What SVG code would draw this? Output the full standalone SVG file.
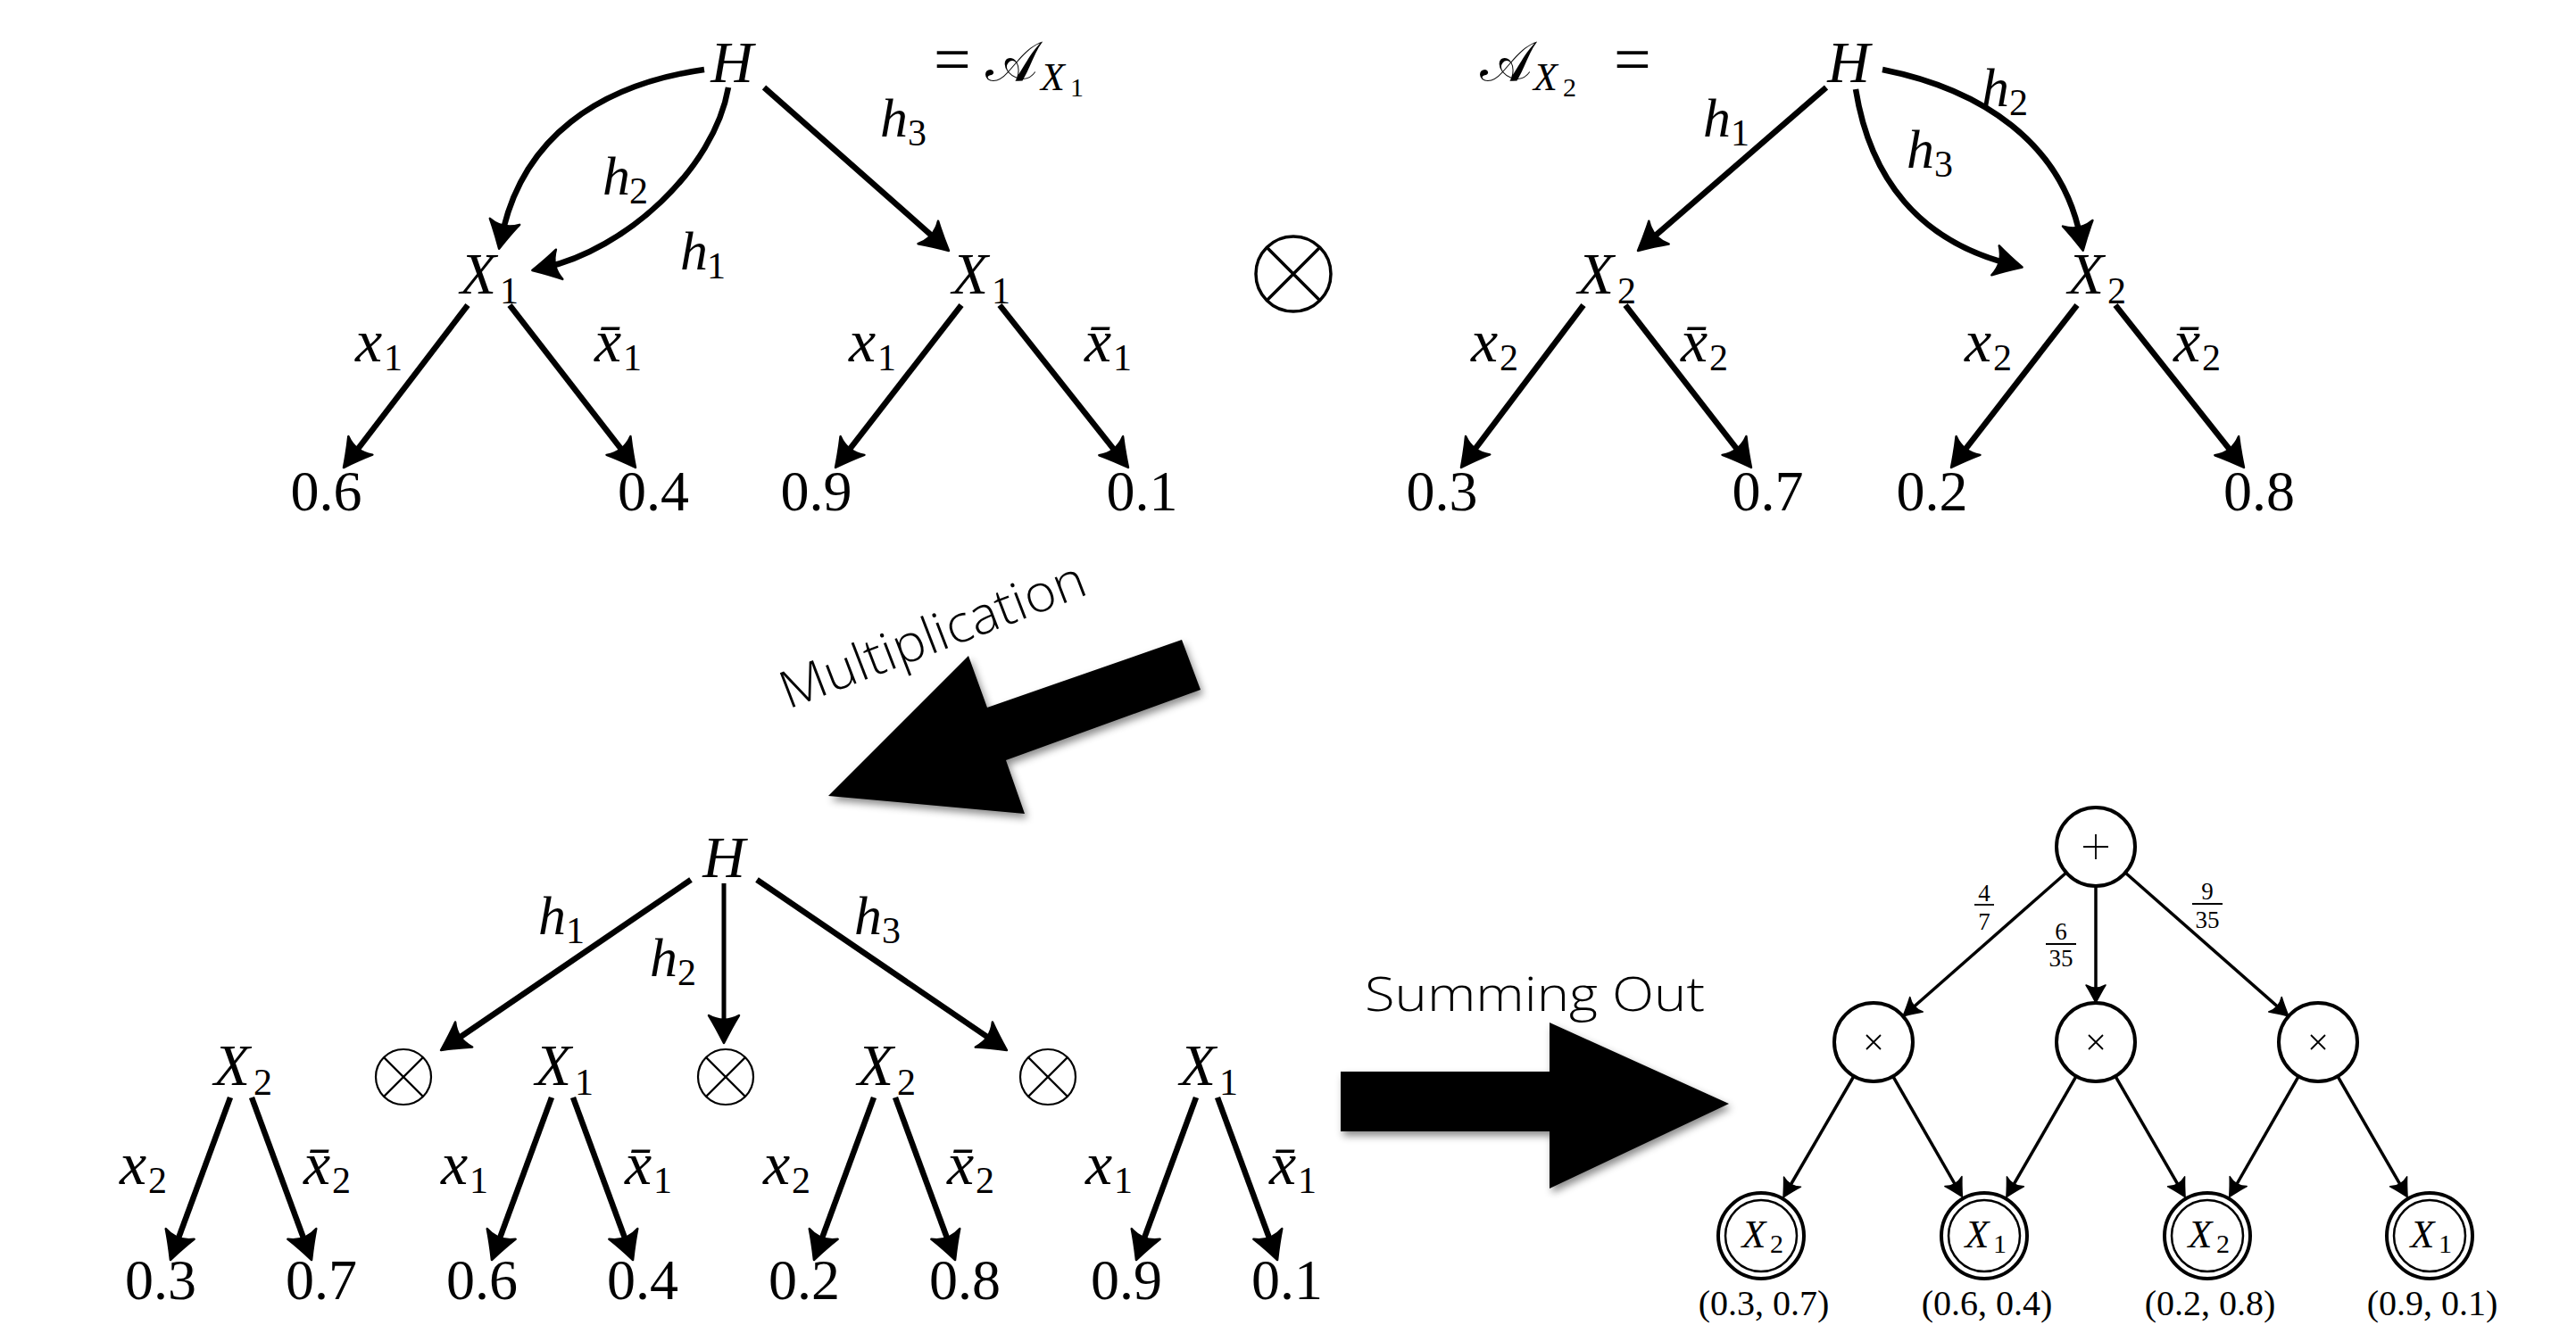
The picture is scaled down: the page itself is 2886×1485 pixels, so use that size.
<svg xmlns="http://www.w3.org/2000/svg" width="2886" height="1485" viewBox="0 0 2886 1485">
<defs>
<style>
.mi{font-family:"Liberation Serif","Times New Roman",serif;font-style:italic;font-size:66px;fill:#000}
.lb{font-family:"Liberation Serif","Times New Roman",serif;font-style:italic;font-size:62px;fill:#000}
.lx{font-family:"Liberation Serif","Times New Roman",serif;font-style:italic;font-size:68px;fill:#000}
.sb{font-family:"Liberation Serif","Times New Roman",serif;font-size:42px;fill:#000}
.ss{font-family:"Liberation Serif","Times New Roman",serif;font-size:30px;fill:#000}
.up{font-family:"Liberation Serif","Times New Roman",serif;font-size:74px;fill:#000}
.cal{font-family:"Liberation Serif","DejaVu Serif",serif;font-size:62px;fill:#000}
.num{font-family:"Liberation Serif","Times New Roman",serif;font-size:64px;fill:#000;text-anchor:middle}
.ctr{text-anchor:middle}
.e{fill:none;stroke:#000;stroke-width:6.5;marker-end:url(#ah)}
.e2{fill:none;stroke:#000;stroke-width:5;marker-end:url(#ah)}
.et{fill:none;stroke:#000;stroke-width:3.5;marker-end:url(#as)}
.ot{fill:none;stroke:#000}
.nd{fill:#fff;stroke:#000;stroke-width:4}
.thin{fill:none;stroke:#000;stroke-width:1.8}
.big{fill:#000;filter:url(#sh)}
.sans{font-family:"Open Sans","Liberation Sans",Arial,sans-serif;font-weight:300;fill:#000}
.frac{font-family:"Liberation Serif","Times New Roman",serif;font-size:27px;fill:#000;text-anchor:middle}
.tup{font-family:"Liberation Serif","Times New Roman",serif;font-size:40px;fill:#000;text-anchor:middle}
.lmi{font-family:"Liberation Serif","Times New Roman",serif;font-style:italic;font-size:44px;fill:#000}
</style>
<marker id="ah" markerUnits="userSpaceOnUse" viewBox="-40 -25 50 50" markerWidth="50" markerHeight="50" refX="-14" refY="0" orient="auto" overflow="visible">
<path d="M0,0 C-6,-3 -18,-9 -31,-17 C-25,-6 -25,6 -31,17 C-18,9 -6,3 0,0 Z" fill="#000" stroke="#000" stroke-width="2.5" stroke-linejoin="round"/>
</marker>
<marker id="as" markerUnits="userSpaceOnUse" viewBox="-30 -20 40 40" markerWidth="40" markerHeight="40" refX="-8" refY="0" orient="auto" overflow="visible">
<path d="M0,0 C-4,-2 -12,-6 -20,-11 C-16,-4 -16,4 -20,11 C-12,6 -4,2 0,0 Z" fill="#000" stroke="#000" stroke-width="1.5" stroke-linejoin="round"/>
</marker>
<filter id="sh" x="-20%" y="-20%" width="140%" height="140%">
<feDropShadow dx="3" dy="5" stdDeviation="4" flood-color="#000" flood-opacity="0.45"/>
</filter>
</defs>
<rect width="2886" height="1485" fill="#fff"/>

<!-- connectors -->
<g id="connectors">
<!-- top-left tree -->
<path class="e" d="M789,78 C670,95 585,155 562,265"/>
<path class="e" d="M816,98 C800,190 700,280 610,300"/>
<path class="e" d="M856,98 L1052.5,271.7"/>
<path class="e" d="M524,342 L393.5,512.9"/>
<path class="e" d="M571,342 L703.4,512.9"/>
<path class="e" d="M1077,342 L944.6,512.9"/>
<path class="e" d="M1120,342 L1255.3,513"/>
<!-- top-right tree -->
<path class="e" d="M2046,98 L1845.6,271.8"/>
<path class="e" d="M2079,100 C2095,200 2150,270 2252,296"/>
<path class="e" d="M2109,78 C2220,100 2310,160 2331,267"/>
<path class="e" d="M1774,342 L1645.4,512.8"/>
<path class="e" d="M1821,342 L1953.4,512.9"/>
<path class="e" d="M2327,342 L2194.6,512.9"/>
<path class="e" d="M2370,342 L2505.3,513"/>
<!-- bottom-left tree -->
<path class="e" d="M774,986 L505.6,1169.1"/>
<path class="e2" d="M811,990 L811,1155"/>
<path class="e" d="M848,986 L1116.4,1169.1"/>
<path class="e" d="M258,1230 L195.8,1398.9"/>
<path class="e" d="M282,1230 L344.2,1398.9"/>
<path class="e" d="M618,1230 L555.8,1398.9"/>
<path class="e" d="M642,1230 L704.2,1398.9"/>
<path class="e" d="M979,1230 L916.8,1398.9"/>
<path class="e" d="M1003,1230 L1065.2,1398.9"/>
<path class="e" d="M1340,1230 L1277.8,1398.9"/>
<path class="e" d="M1364,1230 L1426.2,1398.9"/>
<!-- right graph -->
<path class="et" d="M2315,978 L2138,1133.7"/>
<path class="et" d="M2348,993 L2348,1116"/>
<path class="et" d="M2381,978 L2558,1133.7"/>
<path class="et" d="M2077,1206 L2002,1335"/>
<path class="et" d="M2120.7,1206.2 L2194.4,1334.5"/>
<path class="et" d="M2326.1,1206.2 L2251.9,1334.7"/>
<path class="et" d="M2369.9,1206.2 L2444.1,1334.7"/>
<path class="et" d="M2575.3,1206.2 L2501.7,1334.5"/>
<path class="et" d="M2618.9,1206.2 L2693.1,1334.7"/>
</g>

<!-- edge labels -->
<g id="edge-labels">
<text class="lb" x="675" y="218">h</text><text class="sb" x="705" y="228">2</text>
<text class="lb" x="762" y="302">h</text><text class="sb" x="792" y="312">1</text>
<text class="lb" x="986" y="153">h</text><text class="sb" x="1017" y="163">3</text>
<text class="lx" x="398" y="405">x</text><text class="sb" x="430" y="415">1</text>
<text class="lx" x="666" y="405">x&#x0304;</text><text class="sb" x="698" y="415">1</text>
<text class="lx" x="951" y="405">x</text><text class="sb" x="983" y="415">1</text>
<text class="lx" x="1215" y="405">x&#x0304;</text><text class="sb" x="1247" y="415">1</text>

<text class="lb" x="1908" y="153">h</text><text class="sb" x="1939" y="163">1</text>
<text class="lb" x="2136" y="188">h</text><text class="sb" x="2167" y="198">3</text>
<text class="lb" x="2220" y="119">h</text><text class="sb" x="2251" y="129">2</text>
<text class="lx" x="1648" y="405">x</text><text class="sb" x="1680" y="415">2</text>
<text class="lx" x="1883" y="405">x&#x0304;</text><text class="sb" x="1915" y="415">2</text>
<text class="lx" x="2201" y="405">x</text><text class="sb" x="2233" y="415">2</text>
<text class="lx" x="2435" y="405">x&#x0304;</text><text class="sb" x="2467" y="415">2</text>

<text class="lb" x="603" y="1047">h</text><text class="sb" x="634" y="1057">1</text>
<text class="lb" x="728" y="1094">h</text><text class="sb" x="759" y="1104">2</text>
<text class="lb" x="957" y="1047">h</text><text class="sb" x="988" y="1057">3</text>
<text class="lx" x="134" y="1327">x</text><text class="sb" x="166" y="1337">2</text>
<text class="lx" x="340" y="1327">x&#x0304;</text><text class="sb" x="372" y="1337">2</text>
<text class="lx" x="494" y="1327">x</text><text class="sb" x="526" y="1337">1</text>
<text class="lx" x="700" y="1327">x&#x0304;</text><text class="sb" x="732" y="1337">1</text>
<text class="lx" x="855" y="1327">x</text><text class="sb" x="887" y="1337">2</text>
<text class="lx" x="1061" y="1327">x&#x0304;</text><text class="sb" x="1093" y="1337">2</text>
<text class="lx" x="1216" y="1327">x</text><text class="sb" x="1248" y="1337">1</text>
<text class="lx" x="1422" y="1327">x&#x0304;</text><text class="sb" x="1454" y="1337">1</text>

<text class="frac" x="2223" y="1010">4</text><line class="thin" x1="2212" y1="1014" x2="2234" y2="1014"/><text class="frac" x="2223" y="1042">7</text>
<text class="frac" x="2309" y="1053">6</text><line class="thin" x1="2292" y1="1058" x2="2326" y2="1058"/><text class="frac" x="2309" y="1083">35</text>
<text class="frac" x="2473" y="1008">9</text><line class="thin" x1="2456" y1="1013" x2="2490" y2="1013"/><text class="frac" x="2473" y="1040">35</text>
</g>

<!-- top-left tree nodes -->
<g id="tl-H"><text class="mi ctr" x="820" y="92">H</text></g>
<g id="tl-eq"><text class="up" x="1046" y="91">=</text><text class="cal" x="1104" y="90">𝒜</text><text class="lmi" x="1166" y="101">X</text><text class="ss" x="1199" y="108">1</text></g>
<g id="tl-X1a"><text class="mi ctr" x="536" y="329">X</text><text class="sb" x="560" y="340">1</text></g>
<g id="tl-X1b"><text class="mi ctr" x="1087" y="329">X</text><text class="sb" x="1111" y="340">1</text></g>
<g id="tl-l1"><text class="num" x="365.5" y="572">0.6</text></g>
<g id="tl-l2"><text class="num" x="732" y="572">0.4</text></g>
<g id="tl-l3"><text class="num" x="914.5" y="572">0.9</text></g>
<g id="tl-l4"><text class="num" x="1279.5" y="572">0.1</text></g>

<g id="otimes-top">
<circle class="ot" cx="1449" cy="307" r="42" stroke-width="3.5"/>
<path class="ot" stroke-width="3.5" d="M1419.3,277.3 L1478.7,336.7 M1419.3,336.7 L1478.7,277.3"/>
</g>

<!-- top-right tree nodes -->
<g id="tr-eq"><text class="cal" x="1658" y="90">𝒜</text><text class="lmi" x="1718" y="101">X</text><text class="ss" x="1751" y="108">2</text><text class="up" x="1808" y="91">=</text></g>
<g id="tr-H"><text class="mi ctr" x="2071" y="92">H</text></g>
<g id="tr-X2a"><text class="mi ctr" x="1788" y="329">X</text><text class="sb" x="1812" y="340">2</text></g>
<g id="tr-X2b"><text class="mi ctr" x="2337" y="329">X</text><text class="sb" x="2361" y="340">2</text></g>
<g id="tr-l1"><text class="num" x="1615.5" y="572">0.3</text></g>
<g id="tr-l2"><text class="num" x="1980.5" y="572">0.7</text></g>
<g id="tr-l3"><text class="num" x="2164.5" y="572">0.2</text></g>
<g id="tr-l4"><text class="num" x="2531" y="572">0.8</text></g>

<!-- big arrows -->
<g id="mult-arrow">
<polygon class="big" points="1324,717 1106,793 1085,735 928,892 1148,912 1127,852 1345,773"/>
<text class="sans" font-size="58" textLength="362" lengthAdjust="spacingAndGlyphs" transform="translate(883,795) rotate(-21)">Multiplication</text>
</g>
<g id="sum-arrow">
<polygon class="big" points="1502,1201 1736,1201 1736,1146 1937,1237 1736,1332 1736,1268 1502,1268"/>
<text class="sans" x="1529" y="1133" font-size="54" textLength="381" lengthAdjust="spacingAndGlyphs">Summing Out</text>
</g>

<!-- bottom-left tree nodes -->
<g id="bl-H"><text class="mi ctr" x="811" y="983">H</text></g>
<g id="bl-X2a"><text class="mi ctr" x="260" y="1216">X</text><text class="sb" x="284" y="1227">2</text></g>
<g id="bl-o1"><circle class="ot" cx="452" cy="1207" r="31" stroke-width="2.2"/><path class="ot" stroke-width="2.2" d="M430.1,1185.1 L473.9,1228.9 M430.1,1228.9 L473.9,1185.1"/></g>
<g id="bl-X1a"><text class="mi ctr" x="620" y="1216">X</text><text class="sb" x="644" y="1227">1</text></g>
<g id="bl-o2"><circle class="ot" cx="813" cy="1207" r="31" stroke-width="2.2"/><path class="ot" stroke-width="2.2" d="M791.1,1185.1 L834.9,1228.9 M791.1,1228.9 L834.9,1185.1"/></g>
<g id="bl-X2b"><text class="mi ctr" x="981" y="1216">X</text><text class="sb" x="1005" y="1227">2</text></g>
<g id="bl-o3"><circle class="ot" cx="1174" cy="1207" r="31" stroke-width="2.2"/><path class="ot" stroke-width="2.2" d="M1152.1,1185.1 L1195.9,1228.9 M1152.1,1228.9 L1195.9,1185.1"/></g>
<g id="bl-X1b"><text class="mi ctr" x="1342" y="1216">X</text><text class="sb" x="1366" y="1227">1</text></g>
<g id="bl-l1"><text class="num" x="180" y="1456">0.3</text></g>
<g id="bl-l2"><text class="num" x="360" y="1456">0.7</text></g>
<g id="bl-l3"><text class="num" x="540" y="1456">0.6</text></g>
<g id="bl-l4"><text class="num" x="720" y="1456">0.4</text></g>
<g id="bl-l5"><text class="num" x="901" y="1456">0.2</text></g>
<g id="bl-l6"><text class="num" x="1081" y="1456">0.8</text></g>
<g id="bl-l7"><text class="num" x="1262" y="1456">0.9</text></g>
<g id="bl-l8"><text class="num" x="1442" y="1456">0.1</text></g>

<!-- right graph nodes -->
<g id="sum-node"><circle class="nd" cx="2348" cy="949" r="44"/><path class="thin" d="M2334,949 H2362 M2348,935 V963"/></g>
<g id="prod-1"><circle class="nd" cx="2099" cy="1168" r="44"/><path class="thin" d="M2091,1160 L2107,1176 M2091,1176 L2107,1160"/></g>
<g id="prod-2"><circle class="nd" cx="2348" cy="1168" r="44"/><path class="thin" d="M2340,1160 L2356,1176 M2340,1176 L2356,1160"/></g>
<g id="prod-3"><circle class="nd" cx="2597" cy="1168" r="44"/><path class="thin" d="M2589,1160 L2605,1176 M2589,1176 L2605,1160"/></g>
<g id="leaf-1"><circle class="nd" cx="1973" cy="1385" r="48"/><circle cx="1973" cy="1385" r="40" fill="none" stroke="#000" stroke-width="2.5"/><text class="lmi ctr" x="1965" y="1398">X</text><text class="ss" x="1983" y="1404">2</text><text class="tup" x="1976" y="1474">(0.3, 0.7)</text></g>
<g id="leaf-2"><circle class="nd" cx="2223" cy="1385" r="48"/><circle cx="2223" cy="1385" r="40" fill="none" stroke="#000" stroke-width="2.5"/><text class="lmi ctr" x="2215" y="1398">X</text><text class="ss" x="2233" y="1404">1</text><text class="tup" x="2226" y="1474">(0.6, 0.4)</text></g>
<g id="leaf-3"><circle class="nd" cx="2473" cy="1385" r="48"/><circle cx="2473" cy="1385" r="40" fill="none" stroke="#000" stroke-width="2.5"/><text class="lmi ctr" x="2465" y="1398">X</text><text class="ss" x="2483" y="1404">2</text><text class="tup" x="2476" y="1474">(0.2, 0.8)</text></g>
<g id="leaf-4"><circle class="nd" cx="2722" cy="1385" r="48"/><circle cx="2722" cy="1385" r="40" fill="none" stroke="#000" stroke-width="2.5"/><text class="lmi ctr" x="2714" y="1398">X</text><text class="ss" x="2732" y="1404">1</text><text class="tup" x="2725" y="1474">(0.9, 0.1)</text></g>
</svg>
